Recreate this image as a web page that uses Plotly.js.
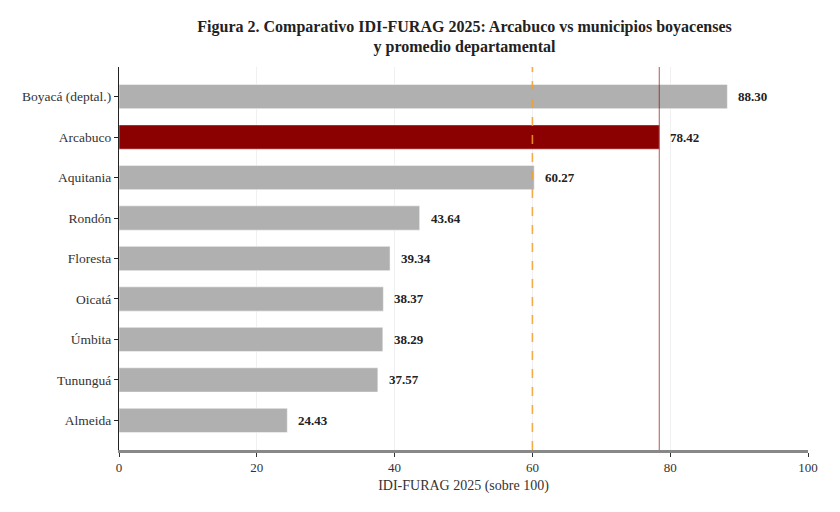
<!DOCTYPE html>
<html>
<head>
<meta charset="utf-8">
<script src="https://cdn.plot.ly/plotly-3.0.1.min.js"></script>
<style>
  html, body { margin: 0; padding: 0; background: #fff; }
  #chart { width: 840px; height: 512px; }
</style>
</head>
<body>
<div id="chart"></div>
<script>
// Datos IDI-FURAG 2025
const municipios = ['Boyacá (deptal.)', 'Arcabuco', 'Aquitania', 'Rondón', 'Floresta',
                    'Oicatá', 'Úmbita', 'Tununguá', 'Almeida'];
const puntajes = [88.30, 78.42, 60.27, 43.64, 39.34, 38.37, 38.29, 37.57, 24.43];
const destacado = 'Arcabuco';
const umbral = 60;
const xTicks = [0, 20, 40, 60, 80, 100];

const FONT = "'Liberation Serif', serif";

const colores = municipios.map(m => m === destacado ? '#8b0000' : '#b0b0b0');
const valorArcabuco = puntajes[municipios.indexOf(destacado)];

const trace = {
    type: 'bar',
    orientation: 'h',
    x: puntajes,
    y: municipios,
    width: 0.6,
    marker: {
        color: colores,
        line: { color: 'rgba(255,255,255,0.5)', width: 1 }
    },
    hoverinfo: 'skip'
};

// Etiquetas de valor a la derecha de cada barra
const etiquetas = municipios.map((m, i) => ({
    x: puntajes[i],
    y: m,
    xref: 'x',
    yref: 'y',
    text: '<b>' + puntajes[i].toFixed(2) + '</b>',
    showarrow: false,
    xanchor: 'left',
    xshift: 9,
    font: { family: FONT, size: 13, color: '#222' }
}));

const layout = {
    width: 840,
    height: 512,
    margin: { l: 119, r: 32, t: 67, b: 62 },
    paper_bgcolor: '#fff',
    plot_bgcolor: '#fff',
    showlegend: false,
    font: { family: FONT, size: 13, color: '#333' },
    title: {
        text: '<b>Figura 2. Comparativo IDI-FURAG 2025: Arcabuco vs municipios boyacenses<br>y promedio departamental</b>',
        x: 0.553,
        xanchor: 'center',
        y: 0.958,
        yanchor: 'top',
        pad: { t: 10 },
        font: { family: FONT, size: 16, color: '#222' }
    },
    xaxis: {
        range: [0, 100],
        tickvals: xTicks,
        ticks: 'outside',
        ticklen: 4,
        tickcolor: '#333',
        showgrid: true,
        gridcolor: 'rgba(0,0,0,0.06)',
        gridwidth: 1,
        zeroline: false,
        showline: true,
        linecolor: '#888',
        linewidth: 2.5,
        layer: 'above traces',
        tickfont: { family: FONT, size: 13, color: '#333' },
        title: {
            text: 'IDI-FURAG 2025 (sobre 100)',
            standoff: 6,
            font: { family: FONT, size: 14, color: '#333' }
        }
    },
    yaxis: {
        type: 'category',
        range: [8.73, -0.73],
        ticks: 'outside',
        ticklen: 4,
        tickcolor: '#222',
        showgrid: false,
        zeroline: false,
        showline: true,
        linecolor: '#222',
        linewidth: 1.2,
        tickfont: { family: FONT, size: 13.5, color: '#333' }
    },
    shapes: [
        {
            type: 'line', xref: 'x', yref: 'paper',
            x0: umbral, x1: umbral, y0: 0, y1: 1,
            line: { color: 'rgba(245,160,40,0.85)', width: 1.6, dash: 'dash' },
            layer: 'above'
        },
        {
            type: 'line', xref: 'x', yref: 'paper',
            x0: valorArcabuco, x1: valorArcabuco, y0: 0, y1: 1,
            line: { color: 'rgba(139,0,0,0.55)', width: 1.2 },
            layer: 'above'
        }
    ],
    annotations: etiquetas
};

Plotly.newPlot('chart', [trace], layout, { displayModeBar: false, responsive: false });
</script>
</body>
</html>
